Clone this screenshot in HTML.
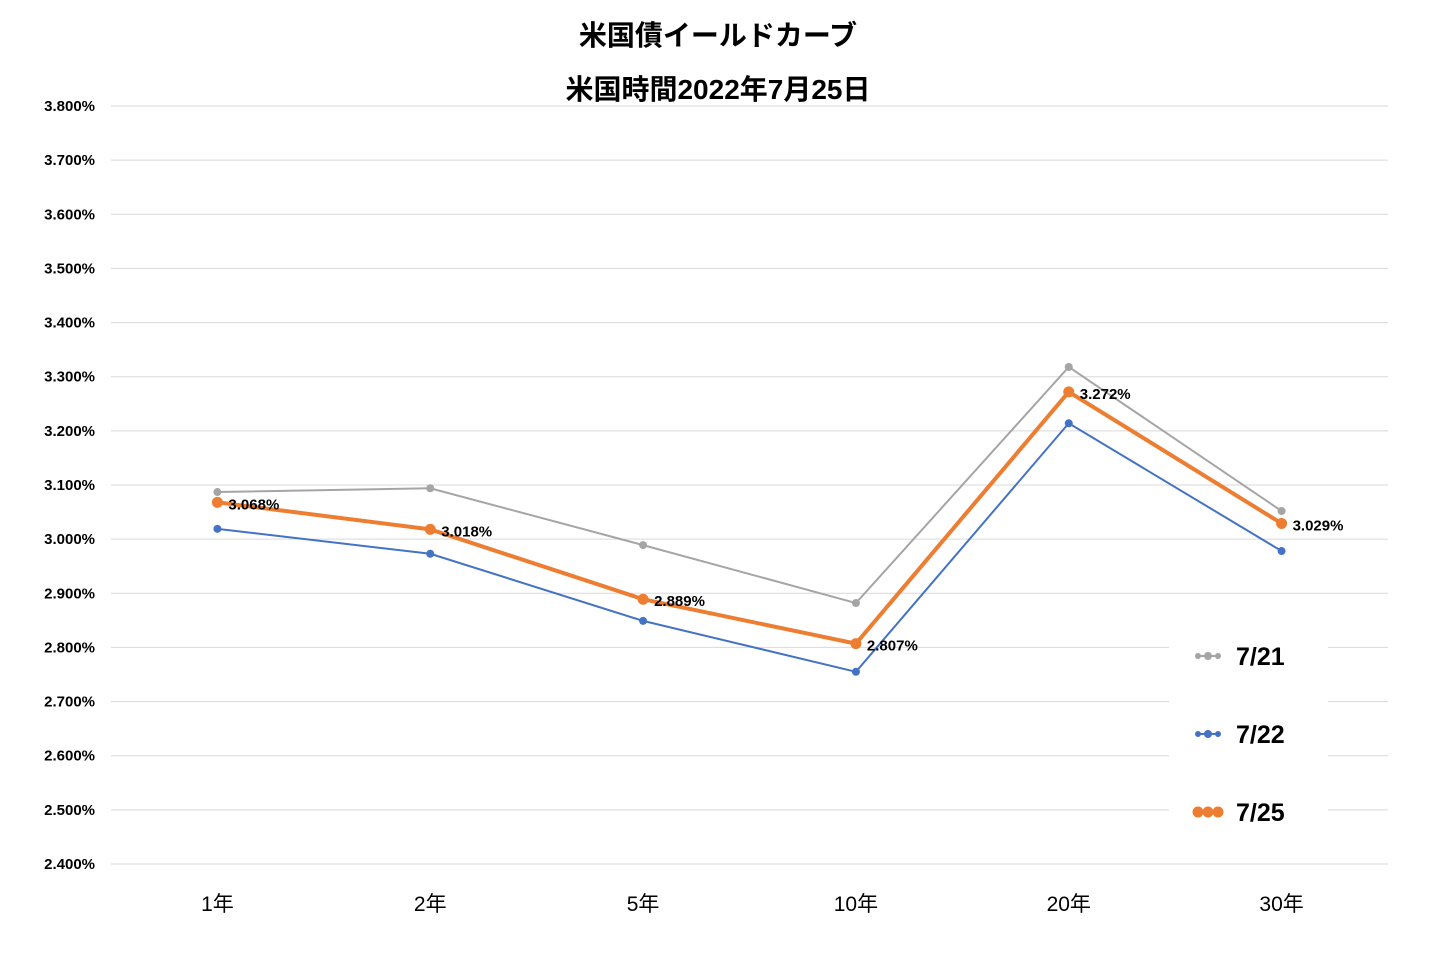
<!DOCTYPE html>
<html><head><meta charset="utf-8"><style>
body{margin:0;background:#fff;}
svg{display:block;font-family:"Liberation Sans","Noto Sans CJK JP",sans-serif;}
</style></head><body>
<svg id="chart" width="1437" height="965">
<text x="718" y="45" text-anchor="middle" font-size="28" font-weight="bold">米国債イールドカーブ</text>
<text x="718" y="99" text-anchor="middle" font-size="28" font-weight="bold">米国時間2022年7月25日</text>
<g id="grid"></g><g id="yt"></g><g id="xt"></g><g id="series"></g><g id="legend"></g>
</svg>
<script>
const categories=["1年","2年","5年","10年","20年","30年"];
const s0721=[3.087,3.094,2.989,2.882,3.318,3.052];
const s0722=[3.019,2.973,2.849,2.755,3.214,2.978];
const s0725=[3.068,3.018,2.889,2.807,3.272,3.029];
const yTicks=[2.4,2.5,2.6,2.7,2.8,2.9,3.0,3.1,3.2,3.3,3.4,3.5,3.6,3.7,3.8];
const NS="http://www.w3.org/2000/svg";
const x0=111,x1=1388,yTop=106,yBot=864,yMin=2.4,yMax=3.8;
const xs=i=>x0+(x1-x0)/categories.length*(i+0.5);
const ys=v=>yBot-(v-yMin)/(yMax-yMin)*(yBot-yTop);
function mk(t,a,p){const e=document.createElementNS(NS,t);for(const k in a)e.setAttribute(k,a[k]);p.appendChild(e);return e;}
const grid=document.getElementById('grid'),yt=document.getElementById('yt'),xt=document.getElementById('xt');
yTicks.forEach(v=>{
 const l=mk('line',{x1:x0,x2:x1,y1:ys(v),y2:ys(v),stroke:'#d9d9d9','stroke-width':1},grid);
 
 
 const t=mk('text',{x:95,y:ys(v)+5,'text-anchor':'end','font-size':15,'font-weight':'bold'},yt);
 t.textContent=v.toFixed(3)+'%';
 
 
});
categories.forEach((c,i)=>{
 const t=mk('text',{x:xs(i),y:911,'text-anchor':'middle','font-size':21},xt);
 t.textContent=c;
 
 
});
const ser=document.getElementById('series');
function draw(data,color,w,r,name,labels){
 const g=mk('g',{},ser);
 
 
 const p=mk('polyline',{points:data.map((v,i)=>xs(i)+','+ys(v)).join(' '),fill:'none',stroke:color,'stroke-width':w},g);
 
 
 data.forEach((v,i)=>{
  const c=mk('circle',{cx:xs(i),cy:ys(v),r:r,fill:color},g);
  
  
  if(labels){
   const t=mk('text',{x:xs(i)+11,y:ys(v)+7,'font-size':15,'font-weight':'bold'},g);
   t.textContent=v.toFixed(3)+'%';
   
   
  }
 });
}
draw(s0721,'#a5a5a5',2,4,'series-0721',false);
draw(s0722,'#4472c4',2,4,'series-0722',false);
draw(s0725,'#ed7d31',4,5.5,'series-0725',true);
const lg=document.getElementById('legend');
const box=mk('rect',{x:1169,y:630,width:159,height:205,fill:'#fff'},lg);


[['7/21','#a5a5a5',656,2,4,3],['7/22','#4472c4',734,2,4,3],['7/25','#ed7d31',812,4,5.5,5.5]].forEach(([n,c,y,w,r,rs])=>{
 const g=mk('g',{},lg);
 
 
 mk('line',{x1:1198,x2:1218,y1:y,y2:y,stroke:c,'stroke-width':w},g);
 mk('circle',{cx:1198,cy:y,r:rs,fill:c},g);
 mk('circle',{cx:1218,cy:y,r:rs,fill:c},g);
 mk('circle',{cx:1208,cy:y,r:r,fill:c},g);
 const t=mk('text',{x:1236,y:y+9,'font-size':25,'font-weight':'bold'},g);
 t.textContent=n;
});
</script>
</body></html>
